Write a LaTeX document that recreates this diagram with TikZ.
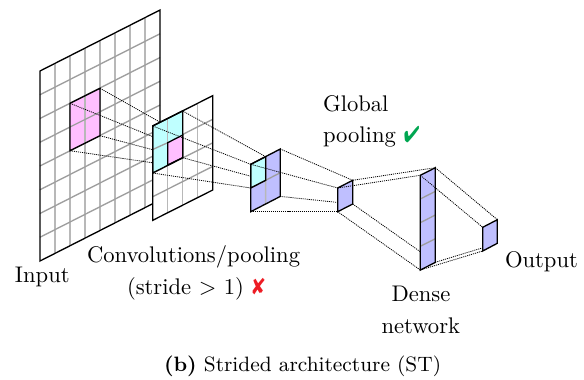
\documentclass[tikz,border=0pt]{standalone}
\usepackage{pifont}
\usepackage{graphicx}
\usetikzlibrary{calc}
\definecolor{okgreen}{RGB}{0,166,81}
\definecolor{badred}{RGB}{237,28,36}
\definecolor{pmag}{RGB}{255,191,255}
\definecolor{pcyan}{RGB}{191,255,255}
\definecolor{pblue}{RGB}{191,191,255}
\newcommand{\txt}[1]{\scalebox{0.942}{#1}}
\newcommand{\marksign}[4]{\hspace{3.3pt}\textcolor{#1}{\resizebox*{#3}{#4}{\ding{#2}}}}
\tikzset{
  edgeline/.style={line width=0.55pt,black,line join=miter},
  gridline/.style={line width=0.55pt,black!38},
  upline/.style={line width=0.62pt,black!28},
  link/.style={line width=0.33pt,dash pattern=on 0.45pt off 0.4pt,black},
  lab/.style={anchor=base west,inner sep=0pt,outer sep=0pt},
}
% name, xl, yl, xr, yr, height, cols, rows, fill
\newcommand{\mysheet}[9]{%
  \coordinate (#1tl) at (#2,#3);
  \coordinate (#1tr) at (#4,#5);
  \coordinate (#1bl) at (#2,#3+#6);
  \coordinate (#1br) at (#4,#5+#6);
  \fill[#9] (#1tl) -- (#1tr) -- (#1br) -- (#1bl) -- cycle;
  \ifnum#7>1 \foreach \i in {1,...,\numexpr#7-1\relax}{
    \draw[upline] ($(#1tl)!{\i/#7}!(#1tr)$) -- ($(#1bl)!{\i/#7}!(#1br)$);}\fi
  \ifnum#8>1 \foreach \i in {1,...,\numexpr#8-1\relax}{
    \draw[gridline] ($(#1tl)!{\i/#8}!(#1bl)$) -- ($(#1tr)!{\i/#8}!(#1br)$);}\fi
}
\newcommand{\myedge}[1]{\draw[edgeline] (#1tl) -- (#1tr) -- (#1br) -- (#1bl) -- cycle;}
\begin{document}
\begin{tikzpicture}[x=0.4167pt,y=-0.4167pt]
\useasboundingbox (0,0) rectangle (584,379);
% Input sheet
\mysheet{a}{40}{71}{160}{10}{190}{8}{8}{white}
\coordinate (p1) at (70,103.3); \coordinate (p2) at (100,88.3);
\coordinate (p3) at (100,135.7); \coordinate (p4) at (70,150.7);
\fill[pmag] (p1) -- (p2) -- (p3) -- (p4) -- cycle;
\draw[upline] ($(p1)!0.5!(p2)$) -- ($(p4)!0.5!(p3)$);
\draw[gridline] ($(p1)!0.5!(p4)$) -- ($(p2)!0.5!(p3)$);
\myedge{a}
\draw[edgeline] (p1) -- (p2) -- (p3) -- (p4) -- cycle;
% links input to second sheet
\coordinate (q1) at (167.7,142.7); \coordinate (q2) at (182.7,135);
\coordinate (q3) at (182.7,157.7); \coordinate (q4) at (167.7,165);
\draw[link] (p1) -- (q1); \draw[link] (p2) -- (q2);
\draw[link] (p3) -- (q3); \draw[link] (p4) -- (q4);
% second sheet
\mysheet{b}{152.7}{126}{212.7}{95.7}{94.3}{4}{4}{white}
\coordinate (c1) at (152.7,126); \coordinate (c2) at (182.7,111);
\coordinate (c3) at (182.7,157.7); \coordinate (c4) at (152.7,173);
\fill[pcyan] (c1) -- (c2) -- (c3) -- (c4) -- cycle;
\fill[pmag] (q1) -- (q2) -- (q3) -- (q4) -- cycle;
\draw[upline] ($(c1)!0.5!(c2)$) -- ($(c4)!0.5!(c3)$);
\draw[gridline] ($(c1)!0.5!(c4)$) -- (q1);
\myedge{b}
\draw[edgeline] (c1) -- (c2) -- (c3) -- (c4) -- cycle;
\draw[edgeline] (q1) -- (q2) -- (q3) -- (q4) -- cycle;
% links second to third sheet
\coordinate (d1) at (250.7,164.3); \coordinate (d2) at (265.7,156.7);
\coordinate (d3) at (265.7,180.3); \coordinate (d4) at (250.7,188);
\draw[link] (c1) -- (d1); \draw[link] (c2) -- (d2);
\draw[link] (c3) -- (d3); \draw[link] (c4) -- (d4);
% third sheet
\mysheet{e}{250.7}{164.3}{280.3}{149}{47.4}{1}{1}{pblue}
\fill[pcyan] (d1) -- (d2) -- (d3) -- (d4) -- cycle;
\draw[upline] (d2) -- ($(ebl)!0.5!(ebr)$);
\draw[gridline] (d4) -- ($(etr)!0.5!(ebr)$);
\myedge{e}
\draw[edgeline] (d1) -- (d2) -- (d3) -- (d4) -- cycle;
% fourth sheet
\coordinate (f1) at (337.7,188); \coordinate (f2) at (352.7,180.3);
\coordinate (f3) at (352.7,204); \coordinate (f4) at (337.7,211.7);
\draw[link] (etl) -- (f1); \draw[link] (etr) -- (f2);
\draw[link] (ebr) -- (f3); \draw[link] (ebl) -- (f4);
\fill[pblue] (f1) -- (f2) -- (f3) -- (f4) -- cycle;
\draw[edgeline] (f1) -- (f2) -- (f3) -- (f4) -- cycle;
% dense sheet
\coordinate (g1) at (420.3,175.3); \coordinate (g2) at (435.3,167.7);
\coordinate (g3) at (435.3,262.3); \coordinate (g4) at (420.3,270);
\draw[link] (f1) -- (g1); \draw[link] (f2) -- (g2);
\draw[link] (f3) -- (g3); \draw[link] (f4) -- (g4);
\mysheet{h}{420.3}{175.3}{435.3}{167.7}{94.7}{1}{4}{pblue}
\myedge{h}
% output sheet
\coordinate (k1) at (482.7,227.3); \coordinate (k2) at (497.3,219.7);
\coordinate (k3) at (497.3,243.3); \coordinate (k4) at (482.7,251);
\draw[link] (g1) -- (k1); \draw[link] (g2) -- (k2);
\draw[link] (g3) -- (k3); \draw[link] (g4) -- (k4);
\fill[pblue] (k1) -- (k2) -- (k3) -- (k4) -- cycle;
\draw[edgeline] (k1) -- (k2) -- (k3) -- (k4) -- cycle;
% labels
\node[lab] (input) at (15,282) {\txt{Input}};
\node[lab] (conv) at (87,262) {\txt{Convolutions/pooling}};
\node[lab] (stride) at (127,294) {\txt{(stride $>$ 1)}\marksign{badred}{56}{5.6pt}{6.9pt}};
\node[lab] (global) at (323,111) {\txt{Global}};
\node[lab] (pool) at (323,142.7) {\txt{pooling}\marksign{okgreen}{52}{6.6pt}{6.9pt}};
\node[lab] (output) at (505,267) {\txt{Output}};
\node[lab] (dense) at (391.5,301.5) {\txt{Dense}};
\node[lab] (network) at (381.5,333.3) {\txt{network}};
\node[lab] (caption) at (164,371) {\scalebox{0.963}{\small\textbf{(b)} Strided architecture (ST)}};
\end{tikzpicture}
\end{document}
